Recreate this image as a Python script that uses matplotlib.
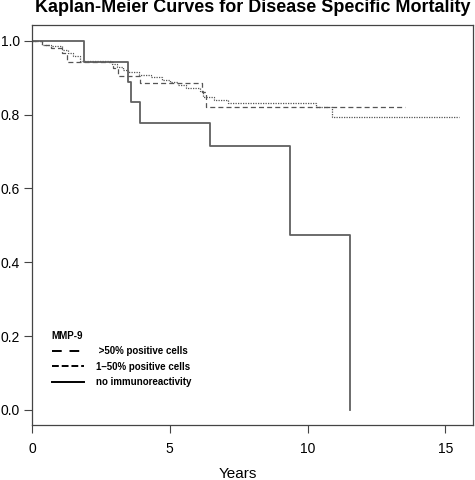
import matplotlib
matplotlib.use("Agg")
import matplotlib.pyplot as plt
from matplotlib.lines import Line2D

plt.rcParams['font.family'] = ['Liberation Sans', 'DejaVu Sans']

# Kaplan-Meier step data (years, survival)
t_high = [0, 0.35, 0.7, 1.1, 1.26, 2.95, 3.13, 3.93, 6.17, 6.3, 13.55]
s_high = [1.0, 0.99, 0.98, 0.967, 0.944, 0.926, 0.904, 0.885, 0.862, 0.822, 0.822]

t_low = [0, 0.35, 0.7, 1.1, 1.3, 1.5, 1.75, 2.9, 3.1, 3.3, 3.5, 3.9, 4.3, 4.7,
         5.0, 5.3, 5.6, 6.1, 6.2, 6.6, 7.1, 10.3, 10.9, 15.5]
s_low = [1.0, 0.99, 0.985, 0.975, 0.967, 0.958, 0.945, 0.937, 0.928, 0.92, 0.915,
         0.908, 0.902, 0.895, 0.888, 0.88, 0.872, 0.865, 0.849, 0.84, 0.831, 0.82,
         0.795, 0.795]

t_none = [0, 1.87, 3.49, 3.6, 3.93, 6.47, 9.35, 11.55]
s_none = [1.0, 0.944, 0.889, 0.833, 0.778, 0.714, 0.474, 0.0]

labels = [' >50% positive cells', '1\u201350% positive cells', 'no immunoreactivity']

fig = plt.figure(figsize=(4.75, 4.8), dpi=100)
ax = fig.add_axes([32/475, 55/480, 441/475, 400/480])

ax.step(t_high, s_high, where='post', color='#555555', lw=0.9, linestyle=(0, (4, 2.5)))
ax.step(t_low, s_low, where='post', color='#555555', lw=0.9, linestyle=(0, (1, 1)))
ax.step(t_none, s_none, where='post', color='#606060', lw=1.3)

ax.set_xlim(0, 16)
ax.set_ylim(-0.041, 1.043)
ax.set_xticks([0, 5, 10, 15])
ax.set_yticks([0.0, 0.2, 0.4, 0.6, 0.8, 1.0])
ax.set_yticklabels(['0.0', '0.2', '0.4', '0.6', '0.8', '1.0'])
ax.tick_params(labelsize=10, length=5.5, width=0.8, color='#444444', pad=3)
ax.tick_params(axis='x', pad=7)
for sp in ax.spines.values():
    sp.set_color('#444444')
    sp.set_linewidth(0.9)

ax.set_xlabel('Years', fontsize=11)
ax.xaxis.set_label_coords(0.467, -0.105)
ax.set_title('Kaplan-Meier Curves for Disease Specific Mortality',
             fontsize=13, fontweight='bold', pad=9)

handles = [Line2D([], [], color='black', lw=1.4, linestyle=(0, (5, 4))),
           Line2D([], [], color='black', lw=1.4, linestyle=(0, (3.5, 1.5))),
           Line2D([], [], color='black', lw=1.4)]
leg = ax.legend(handles, labels, title='MMP-9', loc='upper left',
                bbox_to_anchor=(0.045, 0.235), frameon=False, alignment='left',
                prop={'size': 7, 'weight': 'bold'},
                title_fontproperties={'size': 7, 'weight': 'bold'},
                handlelength=3.3, handletextpad=1.2, labelspacing=0.55,
                borderpad=0, borderaxespad=0)

fig.savefig('out.png', dpi=100)
